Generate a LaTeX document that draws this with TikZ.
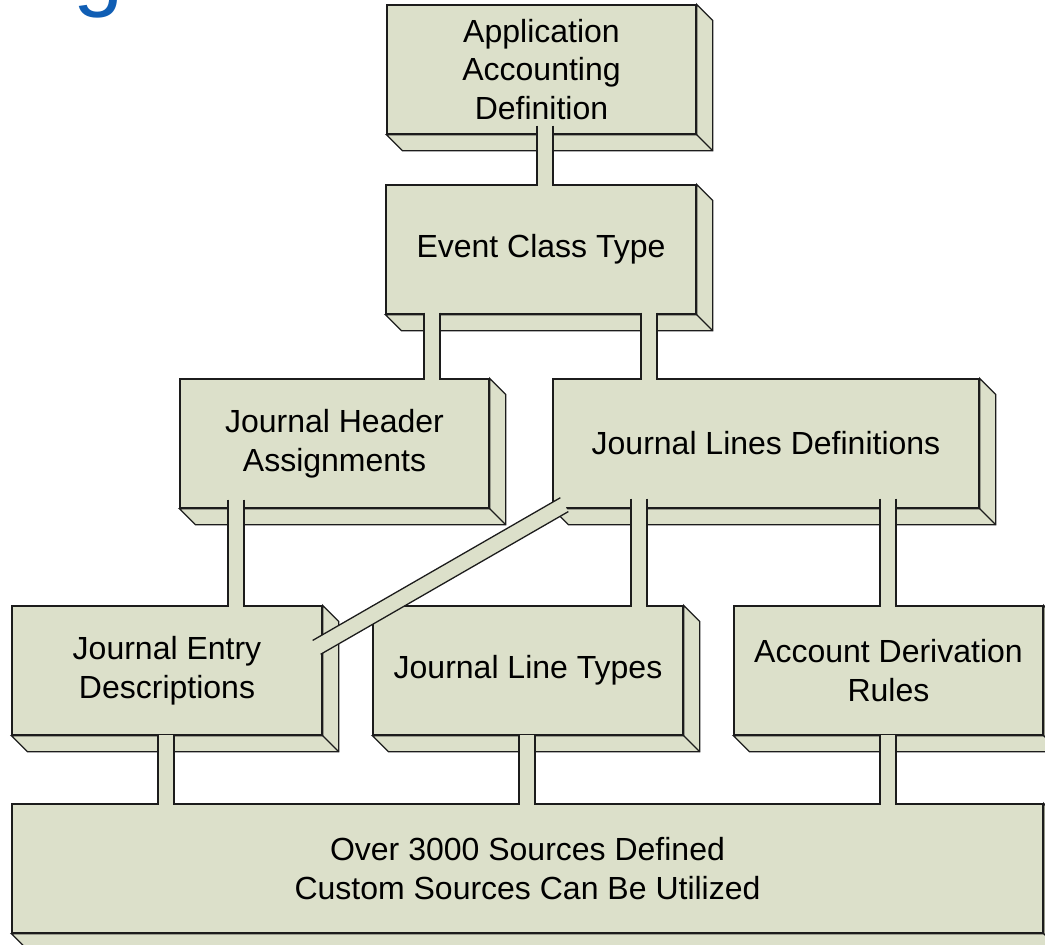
\documentclass[tikz,border=0pt]{standalone}
\usepackage{fontspec}
\setmainfont{Liberation Sans}
\usetikzlibrary{calc}

\definecolor{boxfill}{RGB}{220,224,202}
\definecolor{edgecol}{RGB}{28,28,28}
\definecolor{titleblue}{RGB}{16,94,180}

\tikzset{
  edgeline/.style={draw=edgecol, line width=1.3pt, line join=miter},
  face/.style={edgeline, fill=boxfill, inner sep=0pt, minimum height=129pt,
    align=center, font=\fontsize{32}{38.5}\selectfont},
}

% side and bottom faces of a raised block
\newcommand\extrude[1]{%
  \filldraw[edgeline, fill=boxfill] (#1.north east) -- ++(16,16)
    -- ($(#1.south east)+(16,16)$) -- ($(#1.south west)+(16,16)$)
    -- (#1.south west) -- (#1.south east) -- cycle;
  \draw[edgeline] (#1.south east) -- ++(16,16);
}

% vertical tube: source, target, x offset from source centre, start inside source
\newcommand\vpipe[4]{%
  \coordinate (p1) at ($(#1.south)+(#3,-#4)$);
  \coordinate (p2) at (p1 |- #2.north);
  \fill[boxfill] ($(p1)+(-8,0)$) rectangle ($(p2)+(8,2)$);
  \draw[edgeline] ($(p1)+(-8,0)$) -- ($(p2)+(-8,2)$)
                  ($(p1)+(8,0)$) -- ($(p2)+(8,2)$);
}

\begin{document}
\begin{tikzpicture}[x=1pt, y=-1pt]
  \useasboundingbox (0,0) rectangle (1045,945);
  \clip (0,0) rectangle (1045,945);

  % descender of the heading above
  \node[text=titleblue, font=\fontsize{90}{90}\selectfont, inner sep=0pt, anchor=base]
    (heading) at (99,-1) {g};

  % blocks
  \node[face, minimum width=309pt] (A)   at (541.5, 69.5) {Application\\Accounting\\Definition};
  \node[face, minimum width=310pt] (E)   at (541, 249.5) {Event Class Type};
  \node[face, minimum width=309pt] (JH)  at (334.5, 443.5) {Journal Header\\Assignments};
  \node[face, minimum width=426pt] (JLD) at (766, 443.5) {Journal Lines Definitions};
  \node[face, minimum width=310pt] (JED) at (167, 670.5) {Journal Entry\\Descriptions};
  \node[face, minimum width=310pt] (JLT) at (528, 670.5) {Journal Line Types};
  \node[face, minimum width=309pt] (ADR) at (888.5, 670.5) {Account Derivation\\Rules};
  \node[face, minimum width=1031pt] (B)  at (527.5, 868.5) {Over 3000 Sources Defined\\Custom Sources Can Be Utilized};

  \foreach \n in {A,E,JH,JLD,JED,JLT,ADR,B} {\extrude{\n}}

  % tubes between blocks
  \vpipe{A}{E}{3.5}{9}
  \vpipe{E}{JH}{-109}{2}
  \vpipe{E}{JLD}{108}{2}
  \vpipe{JH}{JED}{-98.5}{9}
  \vpipe{JLD}{JLT}{-127}{10}
  \vpipe{JLD}{ADR}{122}{10}
  \vpipe{JED}{B}{-1}{1}
  \vpipe{JLT}{B}{-1}{1}
  \vpipe{ADR}{B}{-0.5}{1}

  % slanted tube from the line definitions to the entry descriptions
  \coordinate (d1) at ($(JLD.south west)+(12,-4)$);
  \coordinate (d2) at ($(JED.north east)+(-6,42)$);
  \fill[boxfill] ($(d1)!8pt!90:(d2)$) -- ($(d1)!8pt!-90:(d2)$)
    -- ($(d2)!8pt!90:(d1)$) -- ($(d2)!8pt!-90:(d1)$) -- cycle;
  \draw[edgeline] ($(d1)!8pt!90:(d2)$) -- ($(d2)!8pt!-90:(d1)$)
                  ($(d1)!8pt!-90:(d2)$) -- ($(d2)!8pt!90:(d1)$);
\end{tikzpicture}
\end{document}
